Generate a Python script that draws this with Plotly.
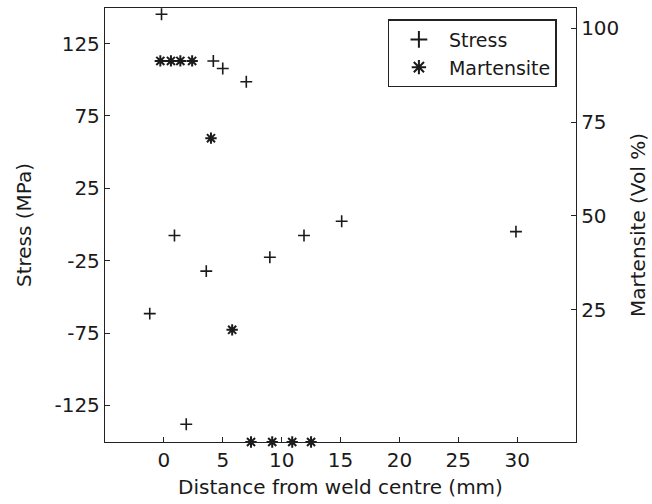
import plotly.graph_objects as go

# Residual stress measurements (distance in mm, stress in MPa)
stress_x = [-1.2, -0.2, 0.9, 1.9, 3.6, 4.2, 5.0, 7.0, 9.0, 11.9, 15.1, 29.9]
stress_y = [-61.6, 145.3, -7.6, -138.0, -32.2, 113.0, 107.8, 98.6, -22.6, -7.6, 2.2, -4.9]

# Martensite volume fraction (distance in mm, vol %)
mart_x = [-0.3, 0.6, 1.4, 2.4, 4.0, 5.8, 7.4, 9.2, 10.9, 12.5]
mart_y = [91.3, 91.3, 91.3, 91.3, 70.7, 19.6, -10.3, -10.3, -10.3, -10.3]

x_ticks = [0, 5, 10, 15, 20, 25, 30]
stress_ticks = [-125, -75, -25, 25, 75, 125]
stress_tick_text = ["-125", "-75", "-25", "25", "75", "125"]
mart_ticks = [25, 50, 75, 100]

FONT = "DejaVu Sans"
FS = 20
INK = "#1a1a1a"

fig = go.Figure()
fig.add_trace(go.Scatter(
    x=stress_x, y=stress_y, mode="markers", name="Stress",
    marker=dict(symbol="cross-thin", size=8.5, color=INK,
                line=dict(color=INK, width=1.6)),
    yaxis="y", cliponaxis=False,
))
fig.add_trace(go.Scatter(
    x=mart_x, y=mart_y, mode="markers", name="Martensite",
    marker=dict(symbol="asterisk-open", size=9.5, color=INK,
                line=dict(color=INK, width=2)),
    yaxis="y2", cliponaxis=False,
))

axis_common = dict(
    showgrid=False, zeroline=False, showline=True, linecolor="#222",
    linewidth=1.3, ticks="inside", ticklen=5, tickwidth=1, tickcolor="#222",
    tickfont=dict(family=FONT, size=FS, color=INK),
)

fig.update_layout(
    width=652, height=504,
    margin=dict(l=105, r=74, t=7, b=62),
    paper_bgcolor="white", plot_bgcolor="white",
    font=dict(family=FONT, size=FS, color=INK),
    xaxis=dict(
        range=[-5, 35], tickvals=x_ticks, mirror=True,
        title=dict(text="Distance from weld centre (mm)", standoff=8,
                   font=dict(family=FONT, size=FS, color=INK)),
        **axis_common,
    ),
    yaxis=dict(
        range=[-150.3, 149.6], tickvals=stress_ticks, ticktext=stress_tick_text,
        title=dict(text="Stress (MPa)", standoff=17,
                   font=dict(family=FONT, size=FS, color=INK)),
        **axis_common,
    ),
    yaxis2=dict(
        range=[-10.3, 105.4], tickvals=mart_ticks, overlaying="y", side="right",
        title=dict(text="Martensite (Vol %)", standoff=12,
                   font=dict(family=FONT, size=FS, color=INK)),
        **axis_common,
    ),
    legend=dict(
        x=0.6, y=0.974, xanchor="left", yanchor="top",
        bgcolor="white", bordercolor="#222", borderwidth=1.3,
        font=dict(family=FONT, size=19, color=INK), tracegroupgap=0,
        itemsizing="constant", itemwidth=50,
    ),
)

fig.write_html("out.html")
